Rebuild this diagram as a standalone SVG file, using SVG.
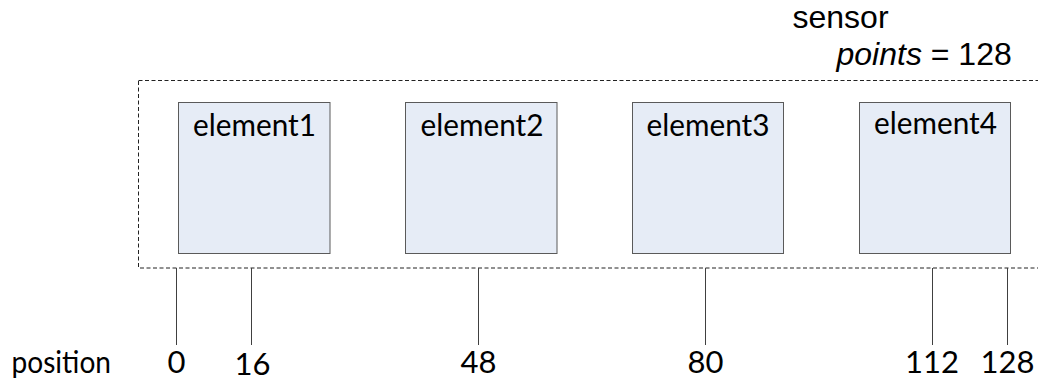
<svg xmlns="http://www.w3.org/2000/svg" width="1038" height="381" viewBox="0 0 1038 381">
<style>
.cal{font-family:Lato,"Open Sans","Noto Sans",sans-serif;font-size:31px;fill:#000}
.ari{font-family:"Liberation Sans",Arial,sans-serif;font-size:32px;fill:#000}
.box{fill:#E6ECF6;stroke:#5a5a5a;stroke-width:1}
.tick{stroke:#404040;stroke-width:1;fill:none}
.num{text-anchor:middle}
</style>
<rect width="1038" height="381" fill="#fff"/>
<g id="sensor">
<rect x="138.5" y="80.5" width="910" height="187.5" fill="none" stroke="#222" stroke-width="1" stroke-dasharray="4 2.5"/>
<text class="ari" x="792.5" y="28">sensor</text>
<text class="ari" x="836.5" y="65"><tspan font-style="italic">points</tspan> = 128</text>
</g>
<g id="element1">
<rect class="box" x="178.5" y="102.5" width="151.5" height="151"/>
<text class="cal" x="193" y="136" textLength="123" lengthAdjust="spacingAndGlyphs">element1</text>
</g>
<g id="element2">
<rect class="box" x="405.5" y="102.5" width="151.5" height="151"/>
<text class="cal" x="420.5" y="136" textLength="123" lengthAdjust="spacingAndGlyphs">element2</text>
</g>
<g id="element3">
<rect class="box" x="632.5" y="102.5" width="151" height="151"/>
<text class="cal" x="646.5" y="136" textLength="123" lengthAdjust="spacingAndGlyphs">element3</text>
</g>
<g id="element4">
<rect class="box" x="859.5" y="102.5" width="151" height="151"/>
<text class="cal" x="874" y="134" textLength="123" lengthAdjust="spacingAndGlyphs">element4</text>
</g>
<g id="connectors">
<line class="tick" x1="176.5" y1="268" x2="176.5" y2="345"/>
<line class="tick" x1="251.5" y1="268" x2="251.5" y2="345"/>
<line class="tick" x1="478.5" y1="268" x2="478.5" y2="345"/>
<line class="tick" x1="705.5" y1="268" x2="705.5" y2="345"/>
<line class="tick" x1="932.5" y1="268" x2="932.5" y2="345"/>
<line class="tick" x1="1007.5" y1="268" x2="1007.5" y2="345"/>
</g>
<g id="positions">
<text class="cal" x="11.5" y="373" textLength="99.5" lengthAdjust="spacingAndGlyphs">position</text>
<text class="cal num" x="176.5" y="373">0</text>
<text class="cal num" x="252.5" y="375">16</text>
<text class="cal num" x="478.5" y="373">48</text>
<text class="cal num" x="705.5" y="373">80</text>
<text class="cal num" x="932" y="373">112</text>
<text class="cal num" x="1007.5" y="373">128</text>
</g>
</svg>
